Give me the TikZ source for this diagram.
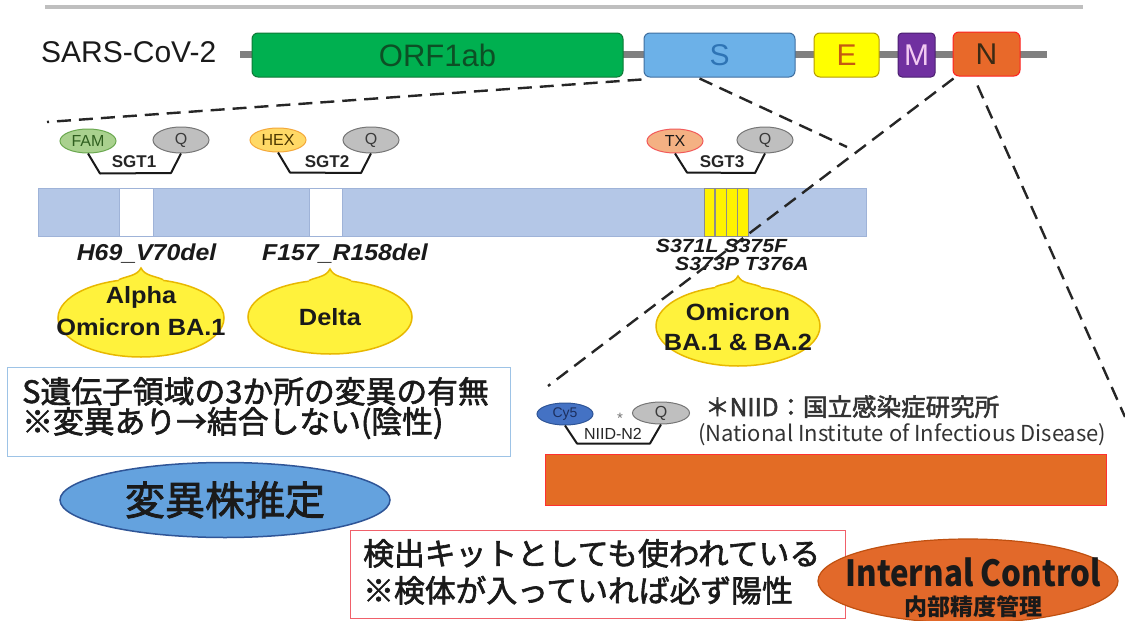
\documentclass[tikz,border=0pt]{standalone}
\usepackage{fontspec}
\usepackage{graphicx}
\setmainfont{Liberation Sans}
\newfontfamily\jpfont{Noto Sans CJK JP}
\newfontfamily\jpsemi[FakeBold=2]{Noto Sans CJK JP}
\usetikzlibrary{shapes.geometric,calc}

\definecolor{topgray}{HTML}{BFBFBF}
\definecolor{bbgray}{HTML}{808080}
\definecolor{txt}{HTML}{1A1A1A}
\definecolor{orfgreen}{HTML}{00B050}
\definecolor{orfborder}{HTML}{0E7A36}
\definecolor{orftext}{HTML}{0D4F25}
\definecolor{sfill}{HTML}{6CB1E8}
\definecolor{sborder}{HTML}{3F6FA0}
\definecolor{stext}{HTML}{2E74B5}
\definecolor{efill}{HTML}{FFFF00}
\definecolor{eborder}{HTML}{B59B00}
\definecolor{etext}{HTML}{C55A11}
\definecolor{mfill}{HTML}{7030A0}
\definecolor{mborder}{HTML}{4B1F70}
\definecolor{mtext}{HTML}{F2C9F2}
\definecolor{nfill}{HTML}{E8692A}
\definecolor{nborder}{HTML}{FF2020}
\definecolor{ntext}{HTML}{3B2A14}
\definecolor{sbarfill}{HTML}{B4C7E7}
\definecolor{sbarborder}{HTML}{9FB3D8}
\definecolor{famfill}{HTML}{A9D18E}
\definecolor{famdraw}{HTML}{6AA84F}
\definecolor{famtext}{HTML}{2F5F1F}
\definecolor{hexfill}{HTML}{FFD966}
\definecolor{hexdraw}{HTML}{F4A83A}
\definecolor{hextext}{HTML}{4D3800}
\definecolor{txfill}{HTML}{F4B183}
\definecolor{txdraw}{HTML}{F25A5A}
\definecolor{qfill}{HTML}{BFBFBF}
\definecolor{qdraw}{HTML}{767676}
\definecolor{qtext}{HTML}{3A3A3A}
\definecolor{cyfill}{HTML}{4472C4}
\definecolor{cydraw}{HTML}{2F5597}
\definecolor{cytext}{HTML}{1C2F5E}
\definecolor{bubfill}{HTML}{FFF23C}
\definecolor{bubdraw}{HTML}{E8B800}
\definecolor{infodraw}{HTML}{9DC3E6}
\definecolor{varfill}{HTML}{64A2DE}
\definecolor{vardraw}{HTML}{2F5597}
\definecolor{obarfill}{HTML}{E36C25}
\definecolor{obardraw}{HTML}{FF3030}
\definecolor{reddraw}{HTML}{F0606A}
\definecolor{icfill}{HTML}{E2692A}
\definecolor{icdraw}{HTML}{C05010}
\definecolor{niidtxt}{HTML}{333333}
\definecolor{stripesep}{HTML}{8C8C8C}

\newcommand\wx[1]{\scalebox{1.08}[1]{#1}}

\begin{document}
\begin{tikzpicture}[x=1pt,y=-1pt,
  genebox/.style={rectangle, rounded corners=6pt, inner sep=0pt, line width=1pt,
    font=\fontsize{30}{30}\selectfont, minimum height=44pt},
  dashln/.style={line width=2.4pt, dash pattern=on 14pt off 8pt, color=black!85},
  dyeell/.style={ellipse, inner sep=0pt, line width=1pt, minimum width=56pt,
    minimum height=24pt, font=\fontsize{16}{16}\selectfont},
  probeln/.style={line width=2pt, color=black!90, line join=round},
  probetxt/.style={inner sep=0pt, font=\fontsize{17}{17}\selectfont\bfseries, text=black!85},
  mutlbl/.style={inner sep=0pt, anchor=base, font=\fontsize{23}{23}\selectfont\bfseries\itshape, text=txt},
  smutlbl/.style={inner sep=0pt, anchor=base, font=\fontsize{19}{19}\selectfont\bfseries\itshape, text=txt},
  bubshape/.style={ellipse, inner sep=0pt, fill=bubfill, draw=bubdraw, line width=1.5pt},
  bubtxt/.style={inner sep=0pt, anchor=base, font=\fontsize{23.5}{23.5}\selectfont\bfseries, text=txt},
  jptxt/.style={inner sep=0pt, anchor=base west, font=\jpsemi\fontsize{30.8}{30.8}\selectfont, text=txt},
  gapbox/.style={rectangle, inner sep=0pt, fill=white, draw=sbarborder, line width=0.8pt, minimum height=48pt}
]
\useasboundingbox[fill=white] (0,0) rectangle (1125,621);

% top rule and genome backbone
\draw[line width=4pt, topgray] (45,7) -- (1083,7);
\draw[line width=7pt, bbgray] (240,54) -- (1047,54);

\node[inner sep=0pt, anchor=base west, font=\fontsize{30}{30}\selectfont, text=txt] (title) at (41,62.5) {SARS-CoV-2};

% genes
\node[genebox, fill=orfgreen, draw=orfborder, text=orftext, minimum width=371pt] (orf) at (437.5,55) {\fontsize{31}{31}\selectfont ORF1ab};
\node[genebox, fill=sfill, draw=sborder, text=stext, minimum width=151pt] (sbox) at (719.5,55) {S};
\node[genebox, fill=efill, draw=eborder, text=etext, minimum width=65pt] (ebox) at (846.5,55) {E};
\node[genebox, fill=mfill, draw=mborder, text=mtext, minimum width=37pt, rounded corners=4pt] (mbox) at (916.5,55) {M};
\node[genebox, fill=nfill, draw=nborder, text=ntext, minimum width=67pt] (nbox) at (986.5,54) {N};

% S gene bar
\node[rectangle, inner sep=0pt, fill=sbarfill, draw=sbarborder, line width=0.8pt, minimum width=828pt, minimum height=48pt] (sbar) at (452,212) {};
\node[gapbox, minimum width=34pt] (gap1) at (136,212) {};
\node[gapbox, minimum width=33pt] (gap2) at (325.5,212) {};
\node[rectangle, inner sep=0pt, fill=yellow, draw=stripesep, line width=0.8pt, minimum width=44pt, minimum height=48pt] (stripes) at (726,212) {};
\foreach \sx in {715,726.5,737.5} \draw[stripesep, line width=1.6pt] (\sx,188.5) -- (\sx,235.5);

% probes
\node[dyeell, fill=famfill, draw=famdraw, text=famtext] (fam) at (88,141) {FAM};
\node[dyeell, fill=qfill, draw=qdraw, text=qtext, minimum height=26pt] (q1) at (181,140) {Q};
\draw[probeln] (fam.south) -- ($(fam.south)+(12,20)$) -- ($(q1.south)+(-10,19.5)$) -- (q1.south);
\node[probetxt] (sgt1) at (134,162) {SGT1};

\node[dyeell, fill=hexfill, draw=hexdraw, text=hextext] (hex) at (278,140) {HEX};
\node[dyeell, fill=qfill, draw=qdraw, text=qtext, minimum height=26pt] (q2) at (371,140) {Q};
\draw[probeln] (hex.south) -- ($(hex.south)+(12,20)$) -- ($(q2.south)+(-10,19.5)$) -- (q2.south);
\node[probetxt] (sgt2) at (327,162) {SGT2};

\node[dyeell, fill=txfill, draw=txdraw, text=txt] (tx) at (675,141) {TX};
\node[dyeell, fill=qfill, draw=qdraw, text=qtext, minimum height=26pt] (q3) at (765,140) {Q};
\draw[probeln] (tx.south) -- ($(tx.south)+(12,19)$) -- ($(q3.south)+(-10,19.5)$) -- (q3.south);
\node[probetxt] (sgt3) at (722,162) {SGT3};

% mutation labels
\node[mutlbl] (m1) at (146.5,260) {\wx{H69\_V70del}};
\node[mutlbl] (m2) at (345,260) {\wx{F157\_R158del}};
\node[smutlbl] (m3a) at (721.5,252.5) {\scalebox{1.12}[1]{S371L S375F}};
\node[smutlbl] (m3b) at (742,270) {\scalebox{1.12}[1]{S373P T376A}};

% callout bubbles
\node[bubshape, minimum width=166pt, minimum height=78pt] (alphaB) at (141,318) {};
\node[bubshape, minimum width=164pt, minimum height=74pt] (deltaB) at (330,317) {};
\node[bubshape, minimum width=164pt, minimum height=80pt] (omiB) at (738,326) {};
\coordinate (alphaTip) at (141,268);
\coordinate (deltaTip) at (330,269);
\coordinate (omiTip) at (738,276);
\foreach \b/\t in {alphaB/alphaTip, deltaB/deltaTip, omiB/omiTip}{
  \fill[bubfill] ($(\b.60)+(0,4)$) -- (\b.60) .. controls ($(\b.60)+(-9,-4)$) and ($(\t)+(4,8)$) .. (\t)
     .. controls ($(\t)+(-4,8)$) and ($(\b.120)+(9,-4)$) .. (\b.120) -- ($(\b.120)+(0,4)$) -- cycle;
  \draw[bubdraw, line width=1.5pt] (\b.60) .. controls ($(\b.60)+(-9,-4)$) and ($(\t)+(4,8)$) .. (\t)
     .. controls ($(\t)+(-4,8)$) and ($(\b.120)+(9,-4)$) .. (\b.120);
}
\node[bubtxt] (alphaT1) at (141,303.5) {\wx{Alpha}};
\node[bubtxt] (alphaT2) at (141,335.5) {\wx{Omicron BA.1}};
\node[bubtxt] (deltaT) at (330,325.5) {\wx{Delta}};
\node[bubtxt] (omiT1) at (738,320.5) {\wx{Omicron}};
\node[bubtxt] (omiT2) at (738,350.5) {\wx{BA.1 \& BA.2}};

% info box
\node[rectangle, draw=infodraw, line width=1.2pt, minimum width=503pt, minimum height=89pt, anchor=north west, inner sep=0pt] (info) at (7,367) {};
\node[jptxt] (info1) at (22,403) {S遺伝子領域の3か所の変異の有無};
\node[jptxt] (info2) at (22,433) {※変異あり→結合しない(陰性)};

% variant estimation ellipse
\node[ellipse, inner sep=0pt, fill=varfill, draw=vardraw, line width=1.5pt, minimum width=330pt, minimum height=75pt] (varB) at (225,500) {};
\node[inner sep=0pt, anchor=base, font=\jpsemi\fontsize{40}{40}\selectfont, text=txt] (varT) at (225,515) {変異株推定};

% NIID probe
\node[dyeell, fill=cyfill, draw=cydraw, text=cytext, minimum height=22pt, font=\fontsize{14}{14}\selectfont] (cy5) at (565,414) {Cy5};
\node[dyeell, fill=qfill, draw=qdraw, text=qtext, minimum width=57pt, minimum height=22pt] (q4) at (661,413) {Q};
\draw[probeln] (cy5.south) -- ($(cy5.south)+(12,18)$) -- ($(q4.south)+(-11,19)$) -- (q4.south);
\node[inner sep=0pt, font=\fontsize{16}{16}\selectfont, text=black!85] (niidn2) at (613,434) {NIID-N2};
\node[inner sep=0pt, font=\fontsize{15}{15}\selectfont, text=black!55] (ast) at (620,418) {*};
\node[inner sep=0pt, anchor=base west, font=\jpsemi\fontsize{24.5}{24.5}\selectfont, text=niidtxt] (niid1) at (705,416) {＊NIID：国立感染症研究所};
\node[inner sep=0pt, anchor=base west, font=\jpfont\fontsize{22}{22}\selectfont, text=niidtxt] (niid2) at (698,441) {(National Institute of Infectious Disease)};

% N gene bar
\node[rectangle, inner sep=0pt, fill=obarfill, draw=obardraw, line width=0.8pt, minimum width=561pt, minimum height=51pt] (nbar) at (825.5,479.5) {};

% kit box
\node[rectangle, draw=reddraw, line width=1.2pt, minimum width=495pt, minimum height=88pt, anchor=north west, inner sep=0pt] (kit) at (350,530) {};
\node[jptxt] (kit1) at (363,565) {検出キットとしても使われている};
\node[jptxt] (kit2) at (363,602) {※検体が入っていれば必ず陽性};

% internal control
\node[ellipse, inner sep=0pt, fill=icfill, draw=icdraw, line width=1.2pt, minimum width=300pt, minimum height=84pt] (icB) at (968,581) {};
\node[inner sep=0pt, anchor=base, font=\jpfont\bfseries\fontsize{36}{36}\selectfont, text=txt] (icT1) at (973,586) {\scalebox{0.87}[1]{Internal Control}};
\node[inner sep=0pt, anchor=base, font=\jpfont\bfseries\fontsize{23}{23}\selectfont, text=txt] (icT2) at (973,615.5) {内部精度管理};

% zoom (dashed) lines
\coordinate (z1) at (47,122);
\coordinate (z2) at (847,147);
\coordinate (z3) at (548,386);
\coordinate (z4) at (1125,417);
\draw[dashln] ($(sbox.south west)+(-2,2)$) -- (z1);
\draw[dashln] ($(sbox.south west)+(56,1)$) -- (z2);
\draw[dashln] ($(nbox.south west)+(1,2)$) -- (z3);
\draw[dashln] ($(nbox.south west)+(25,9)$) -- (z4);
\end{tikzpicture}
\end{document}
